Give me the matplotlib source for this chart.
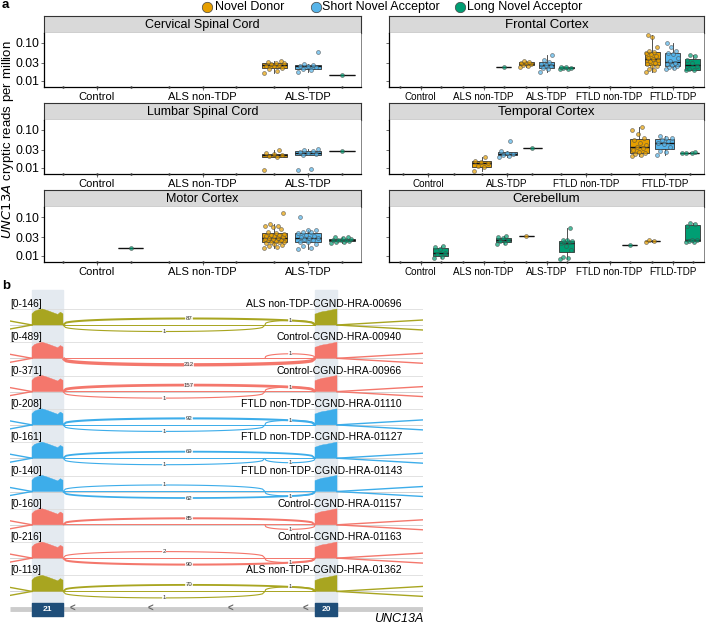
"""UNC13A cryptic splicing: per-tissue boxplots (a) and sashimi tracks (b)."""

import matplotlib

matplotlib.use("Agg")
import matplotlib.pyplot as plt
import numpy as np
from matplotlib.lines import Line2D

plt.rcParams["font.family"] = ["Liberation Sans", "DejaVu Sans"]

W, H = 707, 624

# ---------------------------------------------------------------- panel a data
TYPES = ["Novel Donor", "Short Novel Acceptor", "Long Novel Acceptor"]
TYPE_COLORS = ["#E69F00", "#56B4E9", "#009E73"]

SPINAL_GROUPS = ["Control", "ALS non-TDP", "ALS-TDP"]
CORTEX_GROUPS = ["Control", "ALS non-TDP", "ALS-TDP", "FTLD non-TDP", "FTLD-TDP"]
TEMPORAL_GROUPS = ["Control", "ALS-TDP", "FTLD non-TDP", "FTLD-TDP"]

# (group, type index) -> reads per million of the samples that have reads
cervical = {
    ("ALS-TDP", 0): [0.016, 0.018, 0.021, 0.022, 0.024, 0.025, 0.026, 0.027, 0.029, 0.030, 0.031, 0.033],
    ("ALS-TDP", 1): [0.017, 0.019, 0.021, 0.023, 0.024, 0.025, 0.026, 0.027, 0.058],
    ("ALS-TDP", 2): [0.0144],
}
lumbar = {
    ("ALS-TDP", 0): [0.0089, 0.019, 0.020, 0.022, 0.023, 0.024, 0.030],
    ("ALS-TDP", 1): [0.0085, 0.009, 0.022, 0.023, 0.024, 0.026, 0.027, 0.030, 0.031],
    ("ALS-TDP", 2): [0.028],
}
motor = {
    ("Control", 2): [0.016],
    ("ALS-TDP", 0): [0.016, 0.017, 0.018, 0.019, 0.020, 0.021, 0.022, 0.022, 0.023, 0.024,
                     0.025, 0.026, 0.027, 0.027, 0.028, 0.029, 0.030, 0.032, 0.033, 0.034,
                     0.035, 0.036, 0.038, 0.042, 0.048, 0.055, 0.058, 0.060, 0.065, 0.127],
    ("ALS-TDP", 1): [0.015, 0.016, 0.018, 0.020, 0.022, 0.023, 0.025, 0.027, 0.028, 0.029,
                     0.030, 0.032, 0.035, 0.038, 0.040, 0.042, 0.045, 0.046, 0.100],
    ("ALS-TDP", 2): [0.021, 0.022, 0.023, 0.024, 0.025, 0.025, 0.026, 0.026, 0.027, 0.028, 0.030, 0.031],
}
frontal = {
    ("ALS non-TDP", 2): [0.023],
    ("ALS-TDP", 0): [0.023, 0.024, 0.026, 0.027, 0.029, 0.030, 0.032, 0.033],
    ("ALS-TDP", 1): [0.017, 0.020, 0.022, 0.025, 0.026, 0.028, 0.031, 0.035, 0.048],
    ("ALS-TDP", 2): [0.020, 0.021, 0.022, 0.022, 0.023, 0.023],
    ("FTLD-TDP", 0): [0.017, 0.019, 0.021, 0.024, 0.025, 0.027, 0.030, 0.033, 0.036, 0.038,
                      0.040, 0.045, 0.050, 0.055, 0.058, 0.062, 0.080, 0.140, 0.160],
    ("FTLD-TDP", 1): [0.020, 0.022, 0.023, 0.024, 0.026, 0.028, 0.030, 0.034, 0.040, 0.050,
                      0.055, 0.060, 0.080, 0.100],
    ("FTLD-TDP", 2): [0.019, 0.019, 0.020, 0.024, 0.030, 0.036, 0.045, 0.048],
}
temporal = {
    ("ALS-TDP", 0): [0.0083, 0.0105, 0.011, 0.013, 0.014, 0.0155, 0.019],
    ("ALS-TDP", 1): [0.019, 0.021, 0.022, 0.023, 0.025, 0.028, 0.051],
    ("ALS-TDP", 2): [0.034],
    ("FTLD-TDP", 0): [0.020, 0.022, 0.023, 0.024, 0.026, 0.030, 0.033, 0.036, 0.040, 0.045,
                      0.055, 0.060, 0.080, 0.100, 0.120],
    ("FTLD-TDP", 1): [0.022, 0.026, 0.028, 0.035, 0.042, 0.045, 0.050, 0.055, 0.060, 0.062, 0.070],
    ("FTLD-TDP", 2): [0.024, 0.025, 0.025, 0.026],
}
cerebellum = {
    ("Control", 2): [0.0085, 0.009, 0.011, 0.012, 0.015, 0.017, 0.018],
    ("ALS non-TDP", 2): [0.020, 0.021, 0.024, 0.025, 0.028, 0.030, 0.032],
    ("ALS-TDP", 0): [0.032],
    ("ALS-TDP", 2): [0.008, 0.0085, 0.009, 0.014, 0.018, 0.021, 0.022, 0.023, 0.024, 0.025, 0.025, 0.051],
    ("FTLD non-TDP", 2): [0.019],
    ("FTLD-TDP", 0): [0.023, 0.024, 0.025],
    ("FTLD-TDP", 2): [0.022, 0.023, 0.024, 0.025, 0.026, 0.060, 0.065, 0.070],
}

Y_TICKS = [0.01, 0.03, 0.10]
Y_TICK_LABELS = ["0.01", "0.03", "0.10"]

# ---------------------------------------------------------------- panel b data
TRACK_NAMES = [
    "ALS non-TDP-CGND-HRA-00696",
    "Control-CGND-HRA-00940",
    "Control-CGND-HRA-00966",
    "FTLD non-TDP-CGND-HRA-01110",
    "FTLD non-TDP-CGND-HRA-01127",
    "FTLD non-TDP-CGND-HRA-01143",
    "Control-CGND-HRA-01157",
    "Control-CGND-HRA-01163",
    "ALS non-TDP-CGND-HRA-01362",
]
TRACK_RANGES = [146, 489, 371, 208, 161, 140, 160, 216, 119]
TRACK_GROUPS = ["ALS", "Control", "Control", "FTLD", "FTLD", "FTLD", "Control", "Control", "ALS"]
GROUP_COLORS = {"ALS": "#A8A520", "Control": "#F4776C", "FTLD": "#3DADEA"}
EXON_JUNCTION = [87, 212, 157, 92, 69, 62, 85, 90, 70]       # exon 21 -> exon 20
EXON_SIDE = [1, -1, 1, 1, 1, -1, 1, -1, 1]                   # +1 drawn above
CRYPTIC_DONOR = [1, 0, 1, 1, 1, 1, 0, 2, 1]                  # exon 21 -> cryptic
CRYPTIC_ACCEPTOR = [1, 1, 1, 1, 1, 1, 1, 1, 1]               # cryptic -> exon 20
CRYPTIC_SIDE = [1, 1, 1, 1, -1, -1, -1, -1, 1]
EXON21_COVERAGE = [0.7, 0.86, 0.92, 0.97, 1.0, 0.95, 0.9, 0.84, 0.78, 0.72, 0.66, 0.8, 0.7]
EXON20_COVERAGE = [0.68, 0.74, 0.8, 0.84, 0.86, 0.9, 0.93, 0.97, 1.0]
EXON_LABELS = ["21", "20"]


def px_axes(fig, x0, y0, x1, y1):
    return fig.add_axes([x0 / W, 1 - y1 / H, (x1 - x0) / W, (y1 - y0) / H])


fig = plt.figure(figsize=(W / 100, H / 100), dpi=100)

Y_LO, Y_HI = -2.165, -0.74
OFFSETS = [-0.32, 0.0, 0.32]

facets = [
    ("Cervical Spinal Cord", SPINAL_GROUPS, cervical, 0, 0),
    ("Lumbar Spinal Cord", SPINAL_GROUPS, lumbar, 0, 1),
    ("Motor Cortex", SPINAL_GROUPS, motor, 0, 2),
    ("Frontal Cortex", CORTEX_GROUPS, frontal, 1, 0),
    ("Temporal Cortex", TEMPORAL_GROUPS, temporal, 1, 1),
    ("Cerebellum", CORTEX_GROUPS, cerebellum, 1, 2),
]
col_x = [(44, 361), (389, 704)]
row_y = [(16, 33, 87), (103, 120, 174), (190, 207, 262)]

for title, groups, data, col, row in facets:
    x0, x1 = col_x[col]
    s0, p0, p1 = row_y[row]
    sax = px_axes(fig, x0, s0, x1, p0)
    sax.set_facecolor("#D9D9D9")
    sax.set_xticks([])
    sax.set_yticks([])
    for sp in sax.spines.values():
        sp.set_linewidth(0.8)
        sp.set_color("#333333")
    sax.text(0.5, 0.45, title, ha="center", va="center", fontsize=9 if col == 0 else 9.5,
             transform=sax.transAxes)

    ax = px_axes(fig, x0, p0, x1, p1)
    ax.set_xlim(-0.5, len(groups) - 0.5)
    ax.set_ylim(Y_LO, Y_HI)
    for gi, grp in enumerate(groups):
        for ti, color in enumerate(TYPE_COLORS):
            x = gi + OFFSETS[ti]
            # samples without reads are log10(0) and sit on the axis floor
            ax.scatter([x], [Y_LO], s=3, color="#333333", linewidths=0, clip_on=False, zorder=4)
            vals = data.get((grp, ti))
            if not vals:
                continue
            logv = np.log10(vals)
            bp = ax.boxplot([logv], positions=[x], widths=0.24, patch_artist=True,
                            showfliers=False, showcaps=False, manage_ticks=False,
                            whiskerprops=dict(color="#333333", linewidth=0.6),
                            medianprops=dict(color="#111111", linewidth=1.0))
            for b in bp["boxes"]:
                b.set(facecolor=color, edgecolor="#333333", linewidth=0.6)
            jit = ((np.arange(len(vals)) * 0.618) % 1 - 0.5) * 0.2
            if len(vals) == 1:
                jit = np.zeros(1)
            ax.scatter(x + jit, logv, s=8, facecolor=color, edgecolor="#4a4a4a",
                       linewidths=0.5, alpha=0.7, zorder=3)

    ax.set_xticks(range(len(groups)))
    ax.set_xticklabels(groups, fontsize=8 if col == 0 else 7.1)
    ax.set_yticks(np.log10(Y_TICKS))
    if col == 0:
        ax.set_yticklabels(Y_TICK_LABELS, fontsize=8.8)
    else:
        ax.set_yticklabels([])
    ax.tick_params(length=2, width=0.5, pad=1.5, colors="#333333", labelcolor="black")
    ax.spines["top"].set_visible(False)
    for side in ("left", "bottom"):
        ax.spines[side].set_linewidth(0.9)
    ax.spines["right"].set_linewidth(0.5)
    ax.spines["right"].set_color("#555555")

# legend across the top
for (mx, tx), label, color in zip([(207, 215), (316, 322), (460, 467)], TYPES, TYPE_COLORS):
    fig.add_artist(Line2D([mx / W], [1 - 7 / H], marker="o", markersize=7.5, linestyle="",
                          markerfacecolor=color, markeredgecolor="#444444", markeredgewidth=0.5))
    fig.text(tx / W, 1 - 7 / H, label, ha="left", va="center", fontsize=9)

fig.text(8 / W, 1 - 140 / H, "$\\it{UNC13A}$ cryptic reads per million", rotation=90,
         ha="center", va="center", fontsize=9.5)
fig.text(2 / W, 1 - 5 / H, "a", fontsize=9.5, fontweight="bold", va="center")
fig.text(2 / W, 1 - 286 / H, "b", fontsize=9.5, fontweight="bold", va="center")

# ---------------------------------------------------------------- panel b
bx = px_axes(fig, 10, 288, 423, 624)
bx.set_xlim(0, 413)
bx.set_ylim(336, 0)
bx.axis("off")

EX21 = (22, 53)
EX20 = (305, 327)
CRYPTIC_X = 255
STEP = 33.3

for lo, hi in (EX21, EX20):
    bx.axvspan(lo, hi, ymin=(336 - 327) / 336, ymax=(336 - 2) / 336, color="#E4EAF0", zorder=0)


def arc(x0, x1, yb, height, side, color, count, maxc):
    t = np.linspace(0, 1, 80)
    y = yb - side * height * np.sin(np.pi * t) ** 0.3
    lw = 0.8 + 1.6 * count / maxc
    bx.plot(x0 + (x1 - x0) * t, y, color=color, lw=lw, solid_capstyle="butt", zorder=3)
    bx.text((x0 + x1) / 2, yb - side * height, str(count), fontsize=4.3, ha="center", va="center",
            color="#333333", zorder=5,
            bbox=dict(facecolor="white", edgecolor="none", pad=0.2, alpha=0.8))


for i, name in enumerate(TRACK_NAMES):
    color = GROUP_COLORS[TRACK_GROUPS[i]]
    ly = 16 + STEP * i
    yb = ly + 21
    bx.axhline(ly + 5, color="#DDDDDD", lw=0.6, zorder=1)
    bx.axhline(yb, color="#CCCCCC", lw=0.6, zorder=1)
    bx.text(0, ly, f"[0-{TRACK_RANGES[i]}]", fontsize=7.3, ha="left", va="center", zorder=6)
    bx.text(392, ly, name, fontsize=7.5, ha="right", va="center", zorder=6)

    for (lo, hi), prof in ((EX21, EXON21_COVERAGE), (EX20, EXON20_COVERAGE)):
        xs = np.linspace(lo, hi, len(prof))
        top = yb - 16 * np.array(prof)
        bx.fill(np.r_[lo, xs, hi], np.r_[yb, top, yb], color=color, linewidth=0.3, zorder=2)
    bx.plot([EX21[1], EX20[0]], [yb - 0.4, yb - 0.4], color=color, lw=0.7, zorder=2)

    maxc = max(EXON_JUNCTION)
    side = EXON_SIDE[i]
    arc(EX21[1], EX20[0], yb, 6.5, side, color, EXON_JUNCTION[i], maxc)
    if CRYPTIC_DONOR[i]:
        arc(EX21[1], CRYPTIC_X, yb, 6.5, -side, color, CRYPTIC_DONOR[i], maxc)
    arc(CRYPTIC_X, EX20[0], yb, 4.5, CRYPTIC_SIDE[i], color, CRYPTIC_ACCEPTOR[i], maxc)

    # junctions leaving the view on both sides
    for s in (1, -1):
        bx.plot([0, EX21[0]], [yb - s * 4, yb], color=color, lw=1.0, zorder=2)
        bx.plot([EX20[1], 413], [yb, yb - s * 5], color=color, lw=1.0, zorder=2)

# gene model
gy = 321
bx.plot([0, 413], [gy, gy], color="#CCCCCC", lw=3.5, solid_capstyle="butt", zorder=2)
for (lo, hi), lab in zip((EX21, EX20), EXON_LABELS):
    bx.fill_between([lo, hi], gy - 6.5, gy + 6.5, color="#1F4E79", zorder=3)
    bx.text((lo + hi) / 2, gy + 0.5, lab, color="white", fontsize=6, fontweight="bold",
            ha="center", va="center", zorder=4)
for cx in (62, 140, 220, 295):
    bx.text(cx, gy, "<", fontsize=7, fontweight="bold", color="#666666",
            ha="center", va="center", zorder=4)
fig.text(423 / W, 1 - 619 / H, "UNC13A", fontsize=9, style="italic", ha="right", va="center")

fig.savefig("out.png", dpi=100)
